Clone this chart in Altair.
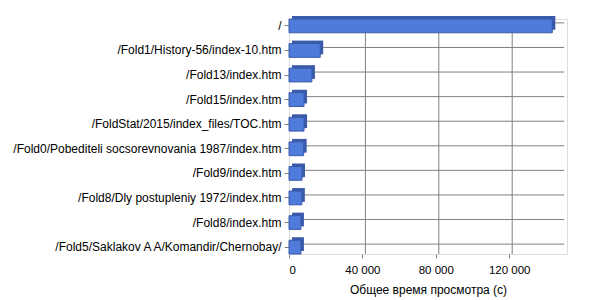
import altair as alt
import pandas as pd

pages = [
    "/",
    "/Fold1/History-56/index-10.htm",
    "/Fold13/index.htm",
    "/Fold15/index.htm",
    "/FoldStat/2015/index_files/TOC.htm",
    "/Fold0/Pobediteli socsorevnovania 1987/index.htm",
    "/Fold9/index.htm",
    "/Fold8/Dly postupleniy 1972/index.htm",
    "/Fold8/index.htm",
    "/Fold5/Saklakov A A/Komandir/Chernobay/",
]
seconds = [143500, 17000, 12500, 8200, 8200, 8000, 7100, 7000, 6500, 6500]
x_ticks = [0, 40000, 80000, 120000]
x_max = 151500
x_title = "Общее время просмотра (с)"

df = pd.DataFrame({"page": pages, "value": seconds})

FONT = "Liberation Sans"

y_enc = alt.Y(
    "page:N",
    sort=None,
    title=None,
    scale=alt.Scale(paddingInner=0.44, paddingOuter=0.0),
    axis=alt.Axis(
        labelFont=FONT, labelFontSize=12, labelColor="#000000",
        labelPadding=3, tickSize=5, tickColor="#808080",
        domain=False, grid=False, labelLimit=300,
    ),
)
x_enc = alt.X(
    "value:Q",
    title=x_title,
    scale=alt.Scale(domain=[0, x_max], nice=False, zero=True),
    axis=alt.Axis(
        values=x_ticks,
        labelExpr="datum.value == 0 ? '0' : format(datum.value / 1000, 'd') + ' 000'",
        labelFont=FONT, labelFontSize=11.5, labelColor="#000000",
        titleFont=FONT, titleFontSize=12, titleFontWeight="normal", titleColor="#000000",
        titlePadding=9, labelPadding=6,
        grid=False, domain=False, tickColor="#808080", tickSize=4,
    ),
)

base = alt.Chart(df)

# back-wall gridlines (vertical), drawn with a depth shift
vgrid = alt.Chart(pd.DataFrame({"t": x_ticks[1:]})).mark_rule(
    color="#808080", strokeWidth=1, xOffset=3
).encode(x=alt.X("t:Q", scale=alt.Scale(domain=[0, x_max], nice=False)), y=alt.value(-3), y2=alt.value(235))

# back-wall gridlines (horizontal) at category centres
hgrid = base.mark_rule(color="#808080", strokeWidth=1, yOffset=-3, xOffset=3).encode(
    y=y_enc, x=alt.datum(0), x2=alt.datum(x_max - 1500)
)

side = base.mark_bar(color="#3A5AAA", xOffset=3, yOffset=-3).encode(y=y_enc, x=x_enc)
front = base.mark_bar(color="#4F7BDB", stroke="#3A5AAA", strokeWidth=1).encode(y=y_enc, x=x_enc)

chart = alt.layer(vgrid, hgrid, side, front).properties(
    width=278, height=235,
    autosize=alt.AutoSizeParams(type="none"),
    padding={"left": 289, "top": 19, "right": 33, "bottom": 46},
).configure_view(
    stroke="#C0C0C0", strokeWidth=3
).configure(background="white")

chart.save("out.html", embed_options={"renderer": "svg", "actions": False})
